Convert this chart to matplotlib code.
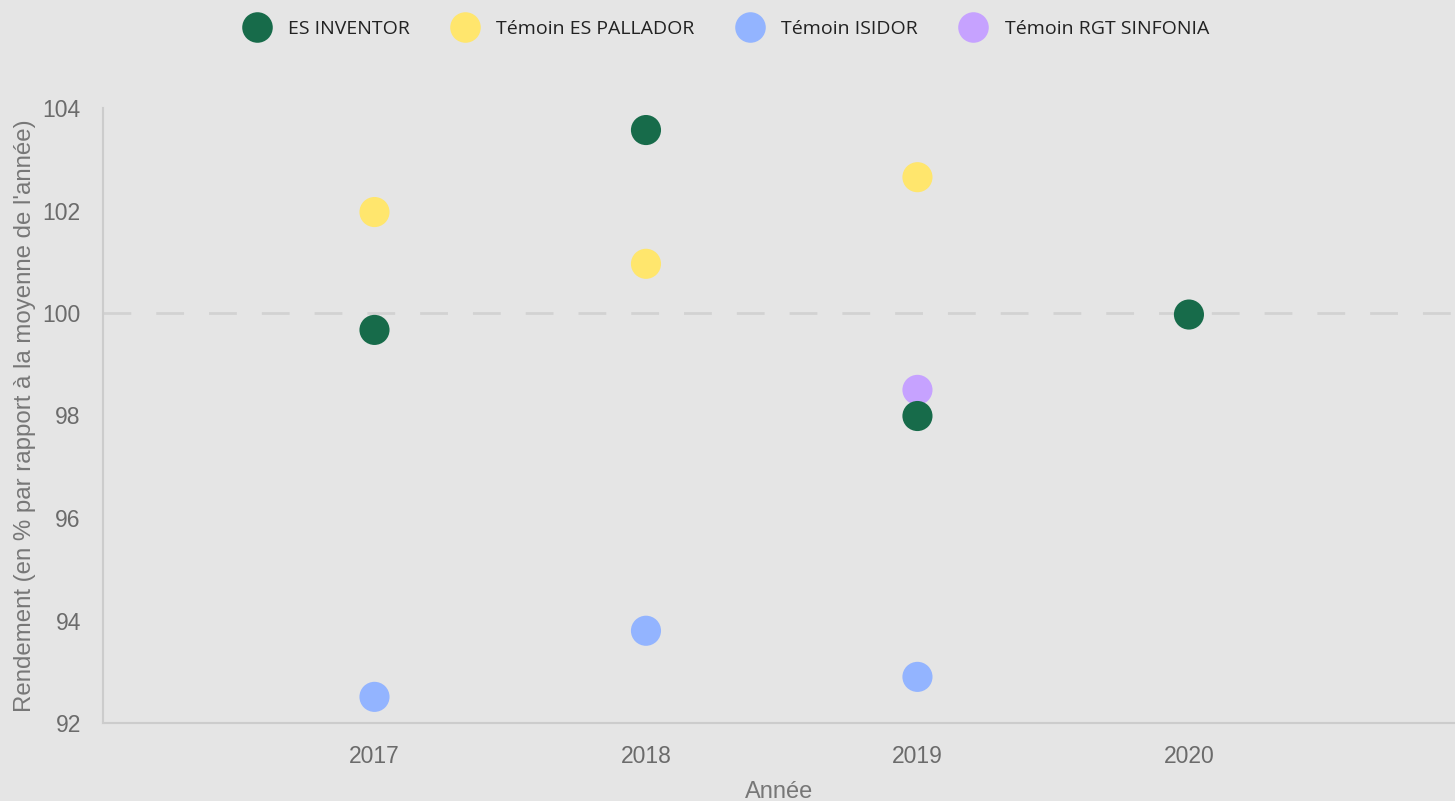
import matplotlib.pyplot as plt
from matplotlib.lines import Line2D

# Données
annees = [2017, 2018, 2019, 2020]
inventor = [99.67, 103.57, 97.99, 99.97]
pallador = [101.97, 100.96, 102.65]
isidor = [92.51, 93.80, 92.90]
sinfonia = [98.50]

series = [
    ("ES INVENTOR", annees, inventor, "#176b4a"),
    ("Témoin ES PALLADOR", annees[:3], pallador, "#ffe66d"),
    ("Témoin ISIDOR", annees[:3], isidor, "#93b4ff"),
    ("Témoin RGT SINFONIA", annees[2:3], sinfonia, "#c6a2ff"),
]

fond = "#e5e5e5"
fig = plt.figure(figsize=(14.55, 8.01), dpi=100, facecolor=fond)
ax = fig.add_axes([103 / 1455, 1 - 723 / 801, 1 - 103 / 1455, (723 - 108) / 801])
ax.set_facecolor(fond)

# ligne de référence à 100
ax.axhline(100, color="#d2d2d2", lw=2, dashes=(10, 9), zorder=1)

# les témoins d'abord, ES INVENTOR par-dessus
for nom, x, y, couleur in series[1:] + series[:1]:
    ax.scatter(x, y, s=470, color=couleur, edgecolors="none", zorder=3)

ax.set_xlim(2016.0, 2020.98)
ax.set_ylim(92, 104)
ax.set_xticks(annees)
ax.set_yticks(range(92, 105, 2))
ax.tick_params(length=0, labelsize=16.5, colors="#6b6b6b", pad=16)

for cote in ["top", "right"]:
    ax.spines[cote].set_visible(False)
for cote in ["left", "bottom"]:
    ax.spines[cote].set_color("#cccccc")
    ax.spines[cote].set_linewidth(1.5)

ax.set_xlabel("Année", fontsize=17, color="#777777", labelpad=9, family="Liberation Sans")
ax.set_ylabel("Rendement (en % par rapport à la moyenne de l'année)", fontsize=17.3,
              color="#777777", labelpad=5, family="Liberation Sans")
for lab in ax.get_xticklabels() + ax.get_yticklabels():
    lab.set_family("Liberation Sans")

# légende en haut
poignees = [Line2D([], [], marker="o", ls="", markersize=22, color=c, markeredgewidth=0)
            for _, _, _, c in series]
fig.legend(poignees, [s[0] for s in series], loc="upper center", ncol=4, frameon=False,
           bbox_to_anchor=(0.497, 0.997), prop={"family": "Open Sans", "size": 14},
           handletextpad=0.6, columnspacing=1.85, labelcolor="#222222")

plt.savefig("out.png", facecolor=fond)
